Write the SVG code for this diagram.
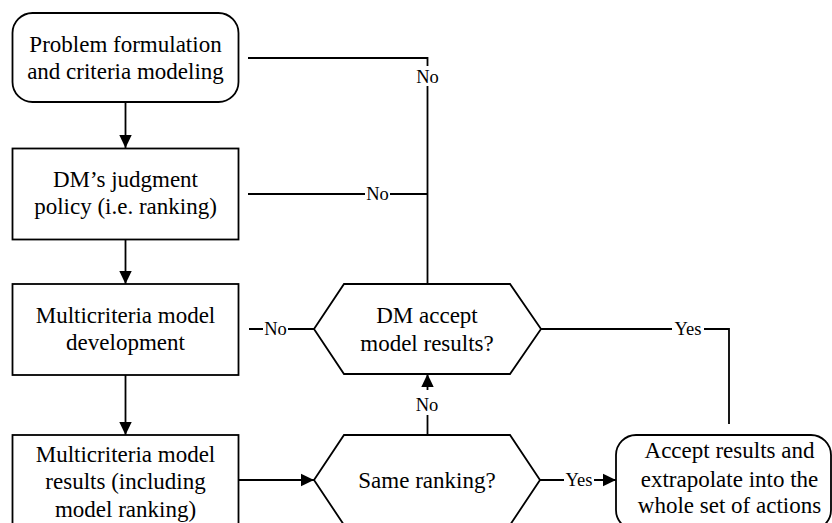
<svg xmlns="http://www.w3.org/2000/svg" width="832" height="523" viewBox="0 0 832 523">
<style>
.box{fill:#fff;stroke:#000;stroke-width:1.8}
.ln{fill:none;stroke:#000;stroke-width:1.8}
.bg{fill:#fff;stroke:none}
</style>
<defs>
<marker id="arr" markerUnits="userSpaceOnUse" markerWidth="14" markerHeight="14" viewBox="-13 -7 14 14" refX="0" refY="0" orient="auto">
<path d="M-13,-6.2 L0,0 L-13,6.2 z" fill="#000"/>
</marker>
</defs>
<rect width="832" height="523" fill="#fff"/>
<g id="connectors">
<path class="ln" d="M125.5,102 V148" marker-end="url(#arr)"/>
<path class="ln" d="M125.5,239.5 V284" marker-end="url(#arr)"/>
<path class="ln" d="M125.5,375 V435" marker-end="url(#arr)"/>
<path class="ln" d="M238.5,480 H314" marker-end="url(#arr)"/>
<path class="ln" d="M540,480 H616" marker-end="url(#arr)"/>
<path class="ln" d="M427.5,435 V374" marker-end="url(#arr)"/>
<path class="ln" d="M427.5,284 V58 H248"/>
<path class="ln" d="M427.5,194 H248"/>
<path class="ln" d="M314,329 H249"/>
<path class="ln" d="M541,329 H729 V424"/>
<rect class="bg" x="414" y="66" width="27" height="20"/>
<rect class="bg" x="365" y="184" width="25" height="20"/>
<rect class="bg" x="263" y="319" width="25" height="20"/>
<rect class="bg" x="415" y="390" width="25" height="25"/>
<rect class="bg" x="564" y="470" width="30" height="20"/>
<rect class="bg" x="672" y="319" width="32" height="20"/>
<text font-family="Liberation Serif" font-size="18.5" text-anchor="middle" x="427.5" y="83">No</text>
<text font-family="Liberation Serif" font-size="18.5" text-anchor="middle" x="377.5" y="200">No</text>
<text font-family="Liberation Serif" font-size="18.5" text-anchor="middle" x="275.5" y="335">No</text>
<text font-family="Liberation Serif" font-size="18.5" text-anchor="middle" x="427" y="410.7">No</text>
<text font-family="Liberation Serif" font-size="18.5" text-anchor="middle" x="579" y="486">Yes</text>
<text font-family="Liberation Serif" font-size="18.5" text-anchor="middle" x="688" y="335">Yes</text>
</g>
<g id="node1">
<rect class="box" x="12.5" y="13" width="226" height="89" rx="20" ry="20"/>
<text font-family="Liberation Serif" font-size="23" text-anchor="middle" x="125.5" y="52.3">Problem formulation</text>
<text font-family="Liberation Serif" font-size="23" text-anchor="middle" x="125.5" y="79">and criteria modeling</text>
</g>
<g id="node2">
<rect class="box" x="12.5" y="148.5" width="226" height="91"/>
<text font-family="Liberation Serif" font-size="23" text-anchor="middle" x="125.5" y="186.7">DM’s judgment</text>
<text font-family="Liberation Serif" font-size="23" text-anchor="middle" x="125.5" y="214">policy (i.e. ranking)</text>
</g>
<g id="node3">
<rect class="box" x="12.5" y="284" width="226" height="91"/>
<text font-family="Liberation Serif" font-size="23" text-anchor="middle" x="125.5" y="322.7">Multicriteria model</text>
<text font-family="Liberation Serif" font-size="23" text-anchor="middle" x="125.5" y="350">development</text>
</g>
<g id="node4">
<rect class="box" x="12.5" y="435" width="226" height="92"/>
<text font-family="Liberation Serif" font-size="23" text-anchor="middle" x="125.5" y="461.7">Multicriteria model</text>
<text font-family="Liberation Serif" font-size="23" text-anchor="middle" x="125.5" y="489.3">results (including</text>
<text font-family="Liberation Serif" font-size="23" text-anchor="middle" x="125.5" y="516.7">model ranking)</text>
</g>
<g id="decision1">
<polygon class="box" points="344,284 510,284 541,329 510,374 344,374 314,329"/>
<text font-family="Liberation Serif" font-size="23" text-anchor="middle" x="427" y="323.3">DM accept</text>
<text font-family="Liberation Serif" font-size="23" text-anchor="middle" x="427" y="350.7">model results?</text>
</g>
<g id="decision2">
<polygon class="box" points="344,435 510,435 540,480 510,525 344,525 314,480"/>
<text font-family="Liberation Serif" font-size="23" text-anchor="middle" x="427" y="488.3">Same ranking?</text>
</g>
<g id="node5">
<rect class="box" x="616" y="435" width="215" height="95" rx="20" ry="20"/>
<text font-family="Liberation Serif" font-size="23" text-anchor="middle" x="729.5" y="457.7">Accept results and</text>
<text font-family="Liberation Serif" font-size="23" text-anchor="middle" x="729.5" y="486.7">extrapolate into the</text>
<text font-family="Liberation Serif" font-size="23" text-anchor="middle" x="729.5" y="513.3">whole set of actions</text>
</g>
</svg>
